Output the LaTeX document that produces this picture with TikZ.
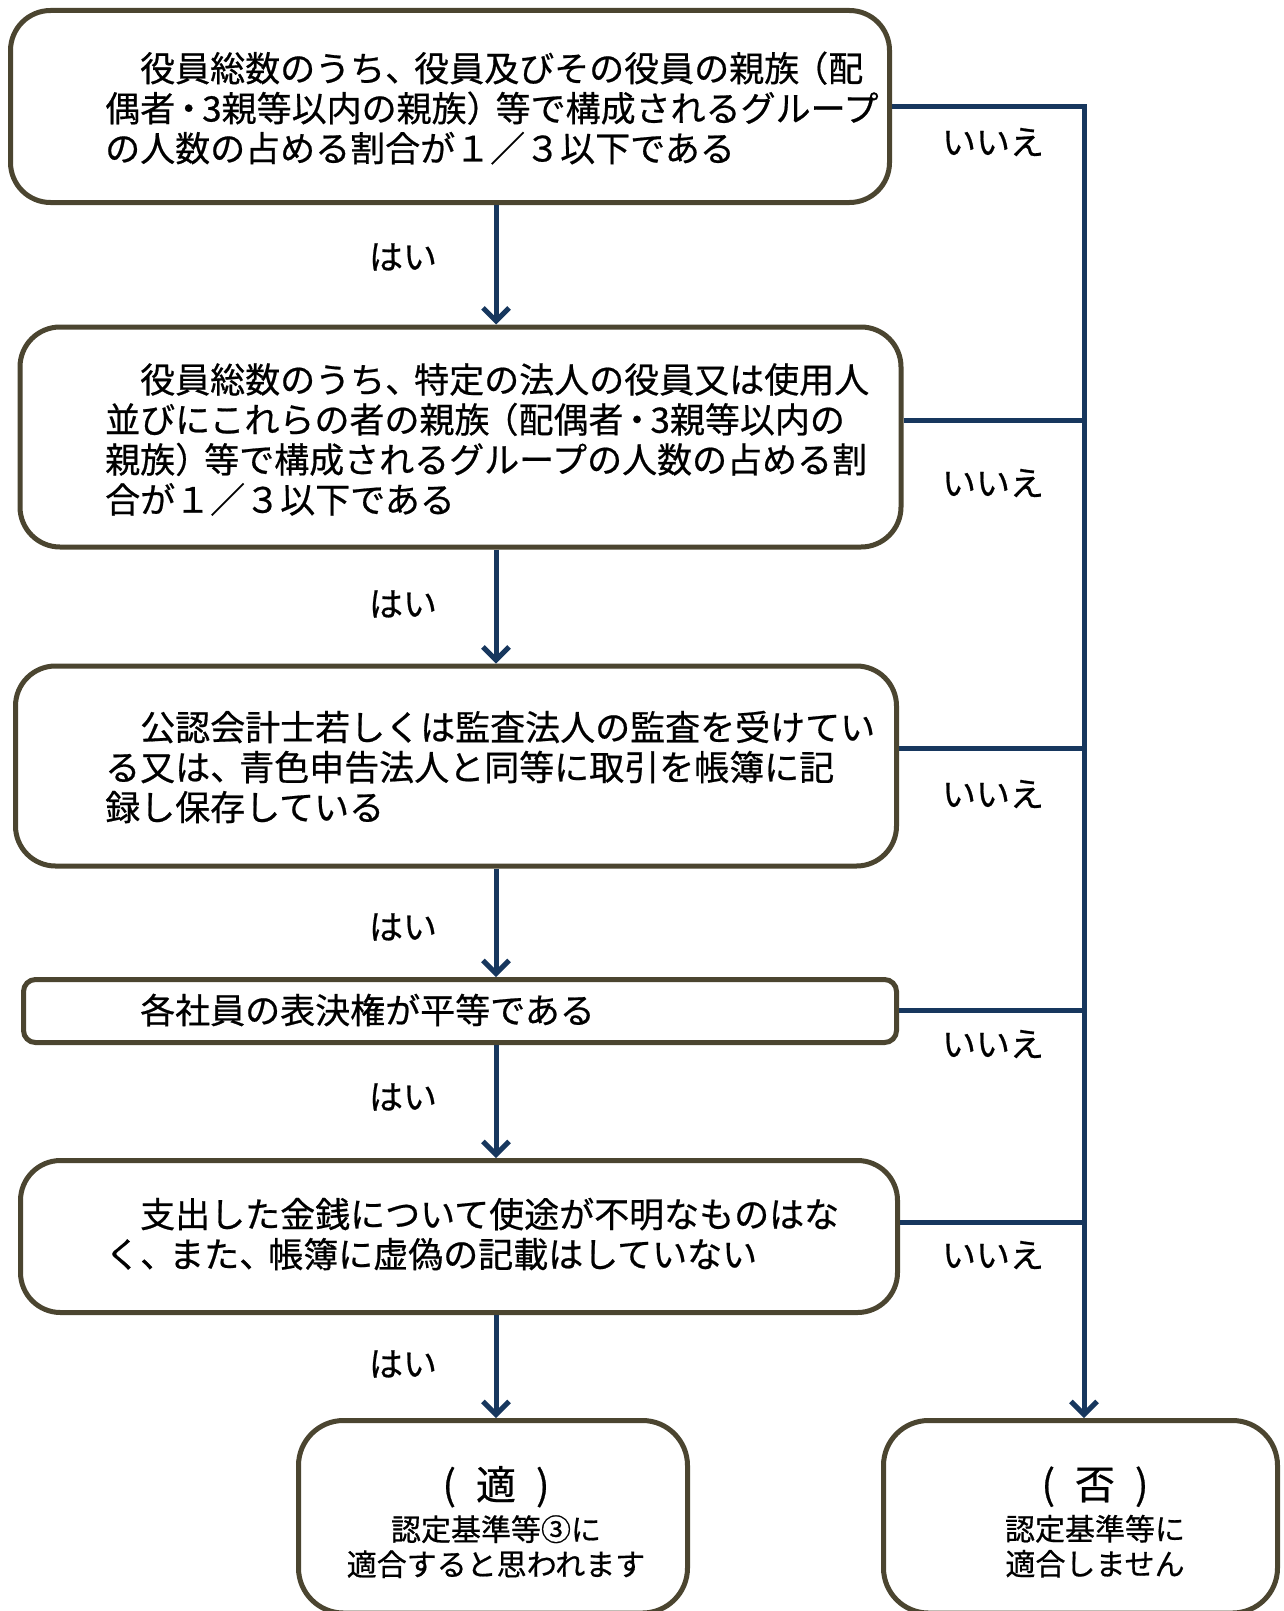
\documentclass[tikz,border=0pt]{standalone}
\usepackage{fontspec}
\setmainfont{Noto Sans CJK JP}[BoldFont=Noto Sans CJK JP, BoldFeatures={FakeBold=0.6}]
\usetikzlibrary{arrows.meta}
\definecolor{boxc}{HTML}{4B4530}
\definecolor{arrc}{HTML}{17375E}
\newcommand{\tk}{、\kern-6pt}
\newcommand{\nd}{\kern-4pt・\kern-4pt}
\newcommand{\lp}{\kern-6pt（}
\newcommand{\rp}{）\kern-6pt}
\tikzset{
  box/.style={draw=boxc, line width=5pt, rounded corners=40pt, fill=white, inner sep=0pt},
  txt/.style={font=\fontsize{35}{40}\selectfont\bfseries, align=left, inner sep=0pt, anchor=west},
  endtxt/.style={font=\fontsize{30}{35}\selectfont\bfseries, align=center, inner sep=0pt},
  lab/.style={font=\fontsize{34}{38}\selectfont\bfseries, inner sep=0pt},
  ln/.style={draw=arrc, line width=5pt},
  arr/.style={draw=arrc, line width=5pt, -{Straight Barb[length=13pt,width=26pt]}}
}
\begin{document}
\begin{tikzpicture}[x=1pt,y=-1pt]
\useasboundingbox (0,0) rectangle (1283,1611);
% boxes
\node[box, minimum width=879pt, minimum height=192pt] (b1) at (450,106.5) {};
\node[box, minimum width=881pt, minimum height=220pt] (b2) at (460.5,437) {};
\node[box, minimum width=881pt, minimum height=200pt] (b3) at (456,766) {};
\node[box, rounded corners=12pt, minimum width=873pt, minimum height=63pt] (b4) at (460,1011) {};
\node[box, minimum width=877pt, minimum height=152pt] (b5) at (459,1236.5) {};
\node[box, rounded corners=45pt, minimum width=389pt, minimum height=192.5pt] (b6) at (493,1516.75) {};
\node[box, rounded corners=45pt, minimum width=394pt, minimum height=192.5pt] (b7) at (1080.5,1516.75) {};
% texts
\node[txt] (t1) at (105,108) {　役員総数のうち\tk 役員及びその役員の親族\lp 配\\偶者\nd 3親等以内の親族\rp 等で構成されるグループ\\の人数の占める割合が１／３以下である};
\node[txt] (t2) at (105,439.5) {　役員総数のうち\tk 特定の法人の役員又は使用人\\並びにこれらの者の親族\lp 配偶者\nd 3親等以内の\\親族\rp 等で構成されるグループの人数の占める割\\合が１／３以下である};
\node[txt] (t3) at (105,767) {　公認会計士若しくは監査法人の監査を受けてい\\る又は\tk 青色申告法人と同等に取引を帳簿に記\\録し保存している};
\node[txt] (t4) at (105,1010) {　各社員の表決権が平等である};
\node[txt] (t5) at (105,1234) {　支出した金銭について使途が不明なものはな\\く\tk また\tk 帳簿に虚偽の記載はしていない};
\node[endtxt] (t6) at (496,1522) {{\fontsize{40}{44}\selectfont (\hspace{20pt}適\hspace{20pt})}\\[6pt]認定基準等③に\\適合すると思われます};
\node[endtxt] (t7) at (1095,1522) {{\fontsize{40}{44}\selectfont (\hspace{20pt}否\hspace{20pt})}\\[6pt]認定基準等に\\適合しません};
% labels
\node[lab] (h1) at (403,257) {はい};
\node[lab] (h2) at (403,604) {はい};
\node[lab] (h3) at (403,927) {はい};
\node[lab] (h4) at (403,1097) {はい};
\node[lab] (h5) at (403,1364) {はい};
\node[lab] (n1) at (993,142) {いいえ};
\node[lab] (n2) at (993,483) {いいえ};
\node[lab] (n3) at (993,794) {いいえ};
\node[lab] (n4) at (993,1044) {いいえ};
\node[lab] (n5) at (993,1255) {いいえ};
% connectors
\coordinate (ax) at (496,0);
\coordinate (vx) at (1084,0);
\draw[arr] (b1.south -| ax) -- (b2.north -| ax);
\draw[arr] (b2.south -| ax) -- (b3.north -| ax);
\draw[arr] (b3.south -| ax) -- (b4.north -| ax);
\draw[arr] (b4.south -| ax) -- (b5.north -| ax);
\draw[arr] (b5.south -| ax) -- (b6.north -| ax);
\draw[arr] (b1.east) -| (b7.north -| vx);
\coordinate (j2) at (vx |- 0,420);
\coordinate (j3) at (vx |- 0,748);
\coordinate (j4) at (vx |- 0,1010);
\coordinate (j5) at (vx |- 0,1222);
\draw[ln] (b2.east |- j2) -- (j2);
\draw[ln] (b3.east |- j3) -- (j3);
\draw[ln] (b4.east |- j4) -- (j4);
\draw[ln] (b5.east |- j5) -- (j5);
\end{tikzpicture}
\end{document}
